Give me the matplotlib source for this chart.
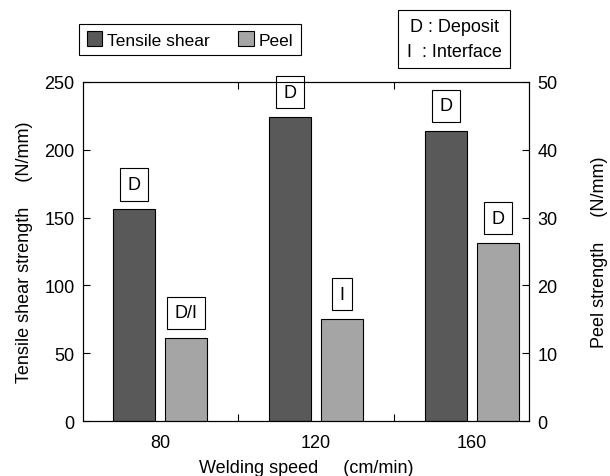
import matplotlib
matplotlib.use('Agg')
import matplotlib.pyplot as plt
from matplotlib.patches import Patch
import numpy as np

plt.rcParams['font.family'] = ['Liberation Sans', 'DejaVu Sans']

speeds = ['80', '120', '160']
tensile = [156, 224, 214]        # N/mm, left axis
peel = [12.3, 15.0, 26.2]        # N/mm, right axis
tensile_mode = ['D', 'D', 'D']
peel_mode = ['D/I', 'I', 'D']

dark = '#595959'
light = '#a5a5a5'

fig = plt.figure(figsize=(6.1, 4.77), dpi=100, facecolor='white')
ax = fig.add_axes([0.136, 0.1153, 0.731, 0.7107])
ax2 = ax.twinx()

x = np.arange(len(speeds))
w = 0.27
off = 0.167

ax.bar(x - off, tensile, w, color=dark, edgecolor='black', linewidth=0.8)
ax2.bar(x + off, peel, w, color=light, edgecolor='black', linewidth=0.8)

box = dict(boxstyle='square,pad=0.42', fc='white', ec='black', lw=0.8)
for i in range(len(speeds)):
    ax.annotate(tensile_mode[i], (x[i] - off, tensile[i]), xytext=(0, 25),
                textcoords='offset pixels', ha='center', va='center',
                fontsize=13, bbox=box, annotation_clip=False)
    ax2.annotate(peel_mode[i], (x[i] + off, peel[i]), xytext=(0, 25),
                 textcoords='offset pixels', ha='center', va='center',
                 fontsize=13, bbox=box, annotation_clip=False)

ax.set_xlim(-0.494, 2.365)
ax.set_ylim(0, 250)
ax2.set_ylim(0, 50)

ax.set_xticks(x, speeds)
ax.tick_params(axis='x', which='major', length=0, labelsize=13, pad=9)
ax.set_xticks([0.5, 1.5], minor=True)
ax.tick_params(axis='x', which='minor', direction='in', length=5, top=True, width=0.8)
ax.set_yticks(np.arange(0, 251, 50))
ax.tick_params(axis='y', direction='in', length=5, labelsize=13, width=0.8, pad=6)
ax2.set_yticks(np.arange(0, 51, 10))
ax2.tick_params(axis='y', direction='in', length=5, labelsize=13, width=0.8, pad=6)

for a in (ax, ax2):
    for s in a.spines.values():
        s.set_linewidth(0.8)

ax.set_xlabel('Welding speed     (cm/min)', fontsize=13, labelpad=6)
ax.set_ylabel('Tensile shear strength     (N/mm)', fontsize=13, labelpad=8)
ax2.set_ylabel('Peel strength     (N/mm)', fontsize=13, labelpad=24)

handles = [Patch(facecolor=dark, edgecolor='black', lw=0.8),
           Patch(facecolor=light, edgecolor='black', lw=0.8)]
leg = fig.legend(handles, ['Tensile shear', 'Peel'], ncol=2,
                 loc='center', bbox_to_anchor=(190 / 610, 1 - 40.5 / 477),
                 fontsize=12.5, fancybox=False, edgecolor='black', framealpha=1,
                 handlelength=0.9, handleheight=0.9, handletextpad=0.3,
                 columnspacing=1.6, borderpad=0.45)
leg.get_frame().set_linewidth(0.8)

fig.text(454 / 610, 1 - 40 / 477, 'D : Deposit\nI  : Interface', ha='center',
         va='center', fontsize=13, linespacing=1.6,
         bbox=dict(boxstyle='square,pad=0.45', fc='white', ec='black', lw=0.8))

fig.savefig('out.png', dpi=100, facecolor='white')
